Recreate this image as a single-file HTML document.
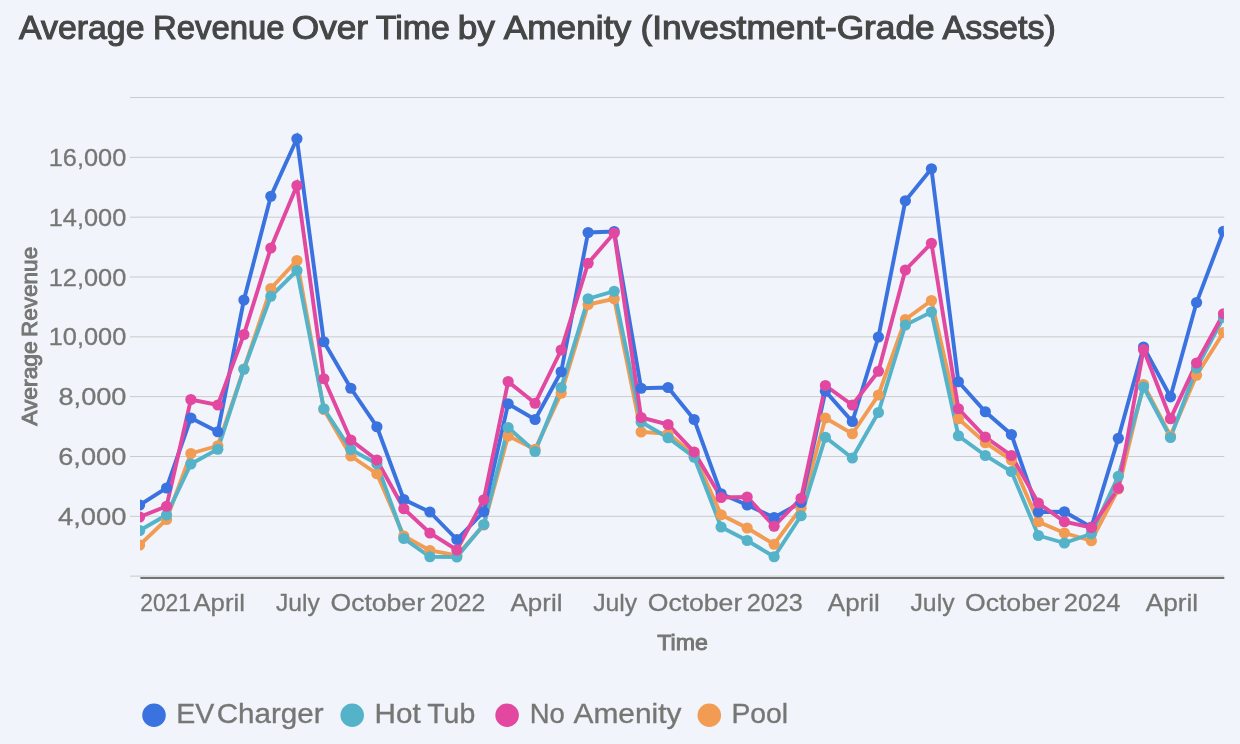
<!DOCTYPE html>
<html lang="en"><head><meta charset="utf-8"><title>Average Revenue Over Time by Amenity</title>
<style>
html,body{margin:0;padding:0;background:#f1f4fa;}
body{width:1240px;height:744px;overflow:hidden;font-family:"Liberation Sans",Arial,sans-serif;}
svg{display:block;}
text{font-family:"Liberation Sans",Arial,sans-serif;}
</style></head><body>
<svg width="1240" height="744" viewBox="0 0 1240 744">
<rect x="0" y="0" width="1240" height="744" fill="#f1f4fa"/>
<defs><clipPath id="plot"><rect x="140" y="90" width="1083.8" height="492"/></clipPath></defs>
<text y="39.2" font-size="32.3" fill="#444746" stroke="#444746" stroke-width="1.05"><tspan x="19.0" textLength="125.48" lengthAdjust="spacingAndGlyphs">Average</tspan> <tspan x="153.0" textLength="131.6" lengthAdjust="spacingAndGlyphs">Revenue</tspan> <tspan x="291.75" textLength="76.34" lengthAdjust="spacingAndGlyphs">Over</tspan> <tspan x="375.75" textLength="74.13" lengthAdjust="spacingAndGlyphs">Time</tspan> <tspan x="457.75" textLength="37.21" lengthAdjust="spacingAndGlyphs">by</tspan> <tspan x="503.75" textLength="127.3" lengthAdjust="spacingAndGlyphs">Amenity</tspan> <tspan x="640.5" textLength="294.23" lengthAdjust="spacingAndGlyphs">(Investment-Grade</tspan> <tspan x="942.5" textLength="113.22" lengthAdjust="spacingAndGlyphs">Assets)</tspan></text>
<g stroke="#c9cbca" stroke-width="1">
<line x1="130" y1="97.50" x2="1224.3" y2="97.50"/>
<line x1="130" y1="157.33" x2="1224.3" y2="157.33"/>
<line x1="130" y1="217.16" x2="1224.3" y2="217.16"/>
<line x1="130" y1="276.99" x2="1224.3" y2="276.99"/>
<line x1="130" y1="336.82" x2="1224.3" y2="336.82"/>
<line x1="130" y1="396.65" x2="1224.3" y2="396.65"/>
<line x1="130" y1="456.48" x2="1224.3" y2="456.48"/>
<line x1="130" y1="516.31" x2="1224.3" y2="516.31"/>
<line x1="130" y1="576.14" x2="1224.3" y2="576.14"/>
</g>
<g font-size="24.5" fill="#757775" stroke="#757775" stroke-width="0.3">
<text x="48.75" y="165.93" textLength="77.52" lengthAdjust="spacingAndGlyphs">16,000</text>
<text x="48.75" y="225.76" textLength="77.52" lengthAdjust="spacingAndGlyphs">14,000</text>
<text x="48.75" y="285.59" textLength="77.52" lengthAdjust="spacingAndGlyphs">12,000</text>
<text x="48.75" y="345.42" textLength="77.52" lengthAdjust="spacingAndGlyphs">10,000</text>
<text x="58.5" y="405.25" textLength="67.98" lengthAdjust="spacingAndGlyphs">8,000</text>
<text x="58.25" y="465.08" textLength="68.01" lengthAdjust="spacingAndGlyphs">6,000</text>
<text x="58.0" y="524.91" textLength="68.44" lengthAdjust="spacingAndGlyphs">4,000</text>
</g>
<line x1="140.4" y1="578" x2="1224.3" y2="578" stroke="#727472" stroke-width="2.1"/>
<text transform="translate(37.4,426.6) rotate(-90)" font-size="21.8" fill="#757775" stroke="#757775" stroke-width="0.9"><tspan x="0.75" textLength="84.55" lengthAdjust="spacingAndGlyphs">Average</tspan> <tspan x="89.50" textLength="90.33" lengthAdjust="spacingAndGlyphs">Revenue</tspan></text>
<g font-size="24.5" fill="#757775" stroke="#757775" stroke-width="0.3">
<text x="140.25" y="610.5" textLength="50.62" lengthAdjust="spacingAndGlyphs">2021</text>
<text x="193.5" y="610.5" textLength="51.33" lengthAdjust="spacingAndGlyphs">April</text>
<text x="276.0" y="610.5" textLength="43.83" lengthAdjust="spacingAndGlyphs">July</text>
<text x="330.5" y="610.5" textLength="94.5" lengthAdjust="spacingAndGlyphs">October</text>
<text x="430.25" y="610.5" textLength="55.04" lengthAdjust="spacingAndGlyphs">2022</text>
<text x="510.58" y="610.5" textLength="51.84" lengthAdjust="spacingAndGlyphs">April</text>
<text x="593.17" y="610.5" textLength="44.08" lengthAdjust="spacingAndGlyphs">July</text>
<text x="647.75" y="610.5" textLength="94.5" lengthAdjust="spacingAndGlyphs">October</text>
<text x="746.83" y="610.5" textLength="56.07" lengthAdjust="spacingAndGlyphs">2023</text>
<text x="827.87" y="610.5" textLength="51.84" lengthAdjust="spacingAndGlyphs">April</text>
<text x="910.46" y="610.5" textLength="44.08" lengthAdjust="spacingAndGlyphs">July</text>
<text x="965.04" y="610.5" textLength="94.5" lengthAdjust="spacingAndGlyphs">October</text>
<text x="1063.75" y="610.5" textLength="56.57" lengthAdjust="spacingAndGlyphs">2024</text>
<text x="1145.75" y="610.5" textLength="52.35" lengthAdjust="spacingAndGlyphs">April</text>
</g>
<text x="657.25" y="649.8" font-size="21.8" fill="#757775" stroke="#757775" stroke-width="0.9" textLength="50.67" lengthAdjust="spacingAndGlyphs">Time</text>
<g clip-path="url(#plot)" fill="none" stroke-linejoin="miter" stroke-miterlimit="4" stroke-linecap="butt">
<polyline points="139.60,545.00 166.55,519.50 190.88,453.50 217.83,445.75 243.90,369.00 270.85,288.50 296.93,260.50 323.87,409.50 350.82,456.00 376.89,473.75 403.84,536.00 429.91,550.50 456.86,555.50 483.80,525.00 508.14,436.00 535.09,449.30 561.16,393.25 588.11,304.50 614.18,298.75 641.13,432.00 668.07,433.75 694.15,455.00 721.09,514.75 747.17,528.00 774.12,544.25 801.06,508.00 825.40,418.00 852.34,433.75 878.42,395.00 905.37,319.50 931.44,300.50 958.39,418.75 985.33,442.75 1011.41,460.00 1038.35,521.75 1064.43,533.00 1091.37,540.75 1118.32,489.00 1143.53,384.50 1170.47,436.00 1196.55,375.20 1223.49,332.50" stroke="#f19c52" stroke-width="3.9"/>
<polyline points="139.60,530.50 166.55,515.00 190.88,464.00 217.83,449.25 243.90,369.25 270.85,296.25 296.93,270.50 323.87,408.75 350.82,449.50 376.89,463.75 403.84,538.50 429.91,556.75 456.86,557.00 483.80,524.50 508.14,427.50 535.09,451.50 561.16,387.50 588.11,298.75 614.18,291.25 641.13,422.00 668.07,437.75 694.15,457.25 721.09,527.00 747.17,540.50 774.12,556.75 801.06,515.75 825.40,437.25 852.34,458.00 878.42,412.50 905.37,325.00 931.44,312.00 958.39,435.75 985.33,455.50 1011.41,471.50 1038.35,535.50 1064.43,543.00 1091.37,533.75 1118.32,476.25 1143.53,387.00 1170.47,437.50 1196.55,368.00 1223.49,317.50" stroke="#54b3c8" stroke-width="3.9"/>
<polyline points="139.60,505.00 166.55,488.00 190.88,418.00 217.83,431.75 243.90,300.00 270.85,196.25 296.93,138.75 323.87,341.75 350.82,388.25 376.89,426.75 403.84,499.50 429.91,512.00 456.86,539.50 483.80,511.80 508.14,403.75 535.09,419.50 561.16,371.75 588.11,232.50 614.18,231.50 641.13,388.25 668.07,387.50 694.15,419.50 721.09,493.75 747.17,505.00 774.12,517.50 801.06,502.50 825.40,391.25 852.34,421.50 878.42,337.00 905.37,200.75 931.44,168.75 958.39,381.75 985.33,411.75 1011.41,434.50 1038.35,512.00 1064.43,511.75 1091.37,527.20 1118.32,438.30 1143.53,347.00 1170.47,396.80 1196.55,302.50 1223.49,231.25" stroke="#3a72e0" stroke-width="3.9"/>
<polyline points="139.60,517.00 166.55,506.25 190.88,399.50 217.83,405.00 243.90,334.50 270.85,248.00 296.93,185.50 323.87,378.75 350.82,440.00 376.89,460.00 403.84,508.75 429.91,533.00 456.86,550.00 483.80,499.75 508.14,381.50 535.09,403.25 561.16,350.00 588.11,263.25 614.18,233.00 641.13,417.50 668.07,424.50 694.15,452.00 721.09,497.50 747.17,497.00 774.12,526.25 801.06,498.25 825.40,385.50 852.34,405.00 878.42,371.25 905.37,270.00 931.44,243.25 958.39,408.75 985.33,437.00 1011.41,455.50 1038.35,503.00 1064.43,521.75 1091.37,527.50 1118.32,488.25 1143.53,349.50 1170.47,418.70 1196.55,363.00 1223.49,313.75" stroke="#e2489f" stroke-width="3.9"/>
<g fill="#f19c52" stroke="none"><circle cx="139.60" cy="545.00" r="5.6"/><circle cx="166.55" cy="519.50" r="5.6"/><circle cx="190.88" cy="453.50" r="5.6"/><circle cx="217.83" cy="445.75" r="5.6"/><circle cx="243.90" cy="369.00" r="5.6"/><circle cx="270.85" cy="288.50" r="5.6"/><circle cx="296.93" cy="260.50" r="5.6"/><circle cx="323.87" cy="409.50" r="5.6"/><circle cx="350.82" cy="456.00" r="5.6"/><circle cx="376.89" cy="473.75" r="5.6"/><circle cx="403.84" cy="536.00" r="5.6"/><circle cx="429.91" cy="550.50" r="5.6"/><circle cx="456.86" cy="555.50" r="5.6"/><circle cx="483.80" cy="525.00" r="5.6"/><circle cx="508.14" cy="436.00" r="5.6"/><circle cx="535.09" cy="449.30" r="5.6"/><circle cx="561.16" cy="393.25" r="5.6"/><circle cx="588.11" cy="304.50" r="5.6"/><circle cx="614.18" cy="298.75" r="5.6"/><circle cx="641.13" cy="432.00" r="5.6"/><circle cx="668.07" cy="433.75" r="5.6"/><circle cx="694.15" cy="455.00" r="5.6"/><circle cx="721.09" cy="514.75" r="5.6"/><circle cx="747.17" cy="528.00" r="5.6"/><circle cx="774.12" cy="544.25" r="5.6"/><circle cx="801.06" cy="508.00" r="5.6"/><circle cx="825.40" cy="418.00" r="5.6"/><circle cx="852.34" cy="433.75" r="5.6"/><circle cx="878.42" cy="395.00" r="5.6"/><circle cx="905.37" cy="319.50" r="5.6"/><circle cx="931.44" cy="300.50" r="5.6"/><circle cx="958.39" cy="418.75" r="5.6"/><circle cx="985.33" cy="442.75" r="5.6"/><circle cx="1011.41" cy="460.00" r="5.6"/><circle cx="1038.35" cy="521.75" r="5.6"/><circle cx="1064.43" cy="533.00" r="5.6"/><circle cx="1091.37" cy="540.75" r="5.6"/><circle cx="1118.32" cy="489.00" r="5.6"/><circle cx="1143.53" cy="384.50" r="5.6"/><circle cx="1170.47" cy="436.00" r="5.6"/><circle cx="1196.55" cy="375.20" r="5.6"/><circle cx="1223.49" cy="332.50" r="5.6"/></g>
<g fill="#54b3c8" stroke="none"><circle cx="139.60" cy="530.50" r="5.6"/><circle cx="166.55" cy="515.00" r="5.6"/><circle cx="190.88" cy="464.00" r="5.6"/><circle cx="217.83" cy="449.25" r="5.6"/><circle cx="243.90" cy="369.25" r="5.6"/><circle cx="270.85" cy="296.25" r="5.6"/><circle cx="296.93" cy="270.50" r="5.6"/><circle cx="323.87" cy="408.75" r="5.6"/><circle cx="350.82" cy="449.50" r="5.6"/><circle cx="376.89" cy="463.75" r="5.6"/><circle cx="403.84" cy="538.50" r="5.6"/><circle cx="429.91" cy="556.75" r="5.6"/><circle cx="456.86" cy="557.00" r="5.6"/><circle cx="483.80" cy="524.50" r="5.6"/><circle cx="508.14" cy="427.50" r="5.6"/><circle cx="535.09" cy="451.50" r="5.6"/><circle cx="561.16" cy="387.50" r="5.6"/><circle cx="588.11" cy="298.75" r="5.6"/><circle cx="614.18" cy="291.25" r="5.6"/><circle cx="641.13" cy="422.00" r="5.6"/><circle cx="668.07" cy="437.75" r="5.6"/><circle cx="694.15" cy="457.25" r="5.6"/><circle cx="721.09" cy="527.00" r="5.6"/><circle cx="747.17" cy="540.50" r="5.6"/><circle cx="774.12" cy="556.75" r="5.6"/><circle cx="801.06" cy="515.75" r="5.6"/><circle cx="825.40" cy="437.25" r="5.6"/><circle cx="852.34" cy="458.00" r="5.6"/><circle cx="878.42" cy="412.50" r="5.6"/><circle cx="905.37" cy="325.00" r="5.6"/><circle cx="931.44" cy="312.00" r="5.6"/><circle cx="958.39" cy="435.75" r="5.6"/><circle cx="985.33" cy="455.50" r="5.6"/><circle cx="1011.41" cy="471.50" r="5.6"/><circle cx="1038.35" cy="535.50" r="5.6"/><circle cx="1064.43" cy="543.00" r="5.6"/><circle cx="1091.37" cy="533.75" r="5.6"/><circle cx="1118.32" cy="476.25" r="5.6"/><circle cx="1143.53" cy="387.00" r="5.6"/><circle cx="1170.47" cy="437.50" r="5.6"/><circle cx="1196.55" cy="368.00" r="5.6"/><circle cx="1223.49" cy="317.50" r="5.6"/></g>
<g fill="#3a72e0" stroke="none"><circle cx="139.60" cy="505.00" r="5.6"/><circle cx="166.55" cy="488.00" r="5.6"/><circle cx="190.88" cy="418.00" r="5.6"/><circle cx="217.83" cy="431.75" r="5.6"/><circle cx="243.90" cy="300.00" r="5.6"/><circle cx="270.85" cy="196.25" r="5.6"/><circle cx="296.93" cy="138.75" r="5.6"/><circle cx="323.87" cy="341.75" r="5.6"/><circle cx="350.82" cy="388.25" r="5.6"/><circle cx="376.89" cy="426.75" r="5.6"/><circle cx="403.84" cy="499.50" r="5.6"/><circle cx="429.91" cy="512.00" r="5.6"/><circle cx="456.86" cy="539.50" r="5.6"/><circle cx="483.80" cy="511.80" r="5.6"/><circle cx="508.14" cy="403.75" r="5.6"/><circle cx="535.09" cy="419.50" r="5.6"/><circle cx="561.16" cy="371.75" r="5.6"/><circle cx="588.11" cy="232.50" r="5.6"/><circle cx="614.18" cy="231.50" r="5.6"/><circle cx="641.13" cy="388.25" r="5.6"/><circle cx="668.07" cy="387.50" r="5.6"/><circle cx="694.15" cy="419.50" r="5.6"/><circle cx="721.09" cy="493.75" r="5.6"/><circle cx="747.17" cy="505.00" r="5.6"/><circle cx="774.12" cy="517.50" r="5.6"/><circle cx="801.06" cy="502.50" r="5.6"/><circle cx="825.40" cy="391.25" r="5.6"/><circle cx="852.34" cy="421.50" r="5.6"/><circle cx="878.42" cy="337.00" r="5.6"/><circle cx="905.37" cy="200.75" r="5.6"/><circle cx="931.44" cy="168.75" r="5.6"/><circle cx="958.39" cy="381.75" r="5.6"/><circle cx="985.33" cy="411.75" r="5.6"/><circle cx="1011.41" cy="434.50" r="5.6"/><circle cx="1038.35" cy="512.00" r="5.6"/><circle cx="1064.43" cy="511.75" r="5.6"/><circle cx="1091.37" cy="527.20" r="5.6"/><circle cx="1118.32" cy="438.30" r="5.6"/><circle cx="1143.53" cy="347.00" r="5.6"/><circle cx="1170.47" cy="396.80" r="5.6"/><circle cx="1196.55" cy="302.50" r="5.6"/><circle cx="1223.49" cy="231.25" r="5.6"/></g>
<g fill="#e2489f" stroke="none"><circle cx="139.60" cy="517.00" r="5.6"/><circle cx="166.55" cy="506.25" r="5.6"/><circle cx="190.88" cy="399.50" r="5.6"/><circle cx="217.83" cy="405.00" r="5.6"/><circle cx="243.90" cy="334.50" r="5.6"/><circle cx="270.85" cy="248.00" r="5.6"/><circle cx="296.93" cy="185.50" r="5.6"/><circle cx="323.87" cy="378.75" r="5.6"/><circle cx="350.82" cy="440.00" r="5.6"/><circle cx="376.89" cy="460.00" r="5.6"/><circle cx="403.84" cy="508.75" r="5.6"/><circle cx="429.91" cy="533.00" r="5.6"/><circle cx="456.86" cy="550.00" r="5.6"/><circle cx="483.80" cy="499.75" r="5.6"/><circle cx="508.14" cy="381.50" r="5.6"/><circle cx="535.09" cy="403.25" r="5.6"/><circle cx="561.16" cy="350.00" r="5.6"/><circle cx="588.11" cy="263.25" r="5.6"/><circle cx="614.18" cy="233.00" r="5.6"/><circle cx="641.13" cy="417.50" r="5.6"/><circle cx="668.07" cy="424.50" r="5.6"/><circle cx="694.15" cy="452.00" r="5.6"/><circle cx="721.09" cy="497.50" r="5.6"/><circle cx="747.17" cy="497.00" r="5.6"/><circle cx="774.12" cy="526.25" r="5.6"/><circle cx="801.06" cy="498.25" r="5.6"/><circle cx="825.40" cy="385.50" r="5.6"/><circle cx="852.34" cy="405.00" r="5.6"/><circle cx="878.42" cy="371.25" r="5.6"/><circle cx="905.37" cy="270.00" r="5.6"/><circle cx="931.44" cy="243.25" r="5.6"/><circle cx="958.39" cy="408.75" r="5.6"/><circle cx="985.33" cy="437.00" r="5.6"/><circle cx="1011.41" cy="455.50" r="5.6"/><circle cx="1038.35" cy="503.00" r="5.6"/><circle cx="1064.43" cy="521.75" r="5.6"/><circle cx="1091.37" cy="527.50" r="5.6"/><circle cx="1118.32" cy="488.25" r="5.6"/><circle cx="1143.53" cy="349.50" r="5.6"/><circle cx="1170.47" cy="418.70" r="5.6"/><circle cx="1196.55" cy="363.00" r="5.6"/><circle cx="1223.49" cy="313.75" r="5.6"/></g>
</g>
<g font-size="28.3" fill="#757775" stroke="#757775" stroke-width="0.35">
<circle cx="154.0" cy="715.3" r="11.75" fill="#3a72e0" stroke="none"/><text y="723.4"><tspan x="176.25" textLength="38.02" lengthAdjust="spacingAndGlyphs">EV</tspan> <tspan x="216.75" textLength="106.8" lengthAdjust="spacingAndGlyphs">Charger</tspan></text>
<circle cx="352.2" cy="715.3" r="11.75" fill="#54b3c8" stroke="none"/><text y="723.4"><tspan x="374.5" textLength="46.15" lengthAdjust="spacingAndGlyphs">Hot</tspan> <tspan x="427.25" textLength="47.98" lengthAdjust="spacingAndGlyphs">Tub</tspan></text>
<circle cx="507.1" cy="715.3" r="11.75" fill="#e2489f" stroke="none"/><text y="723.4"><tspan x="529.75" textLength="35.1" lengthAdjust="spacingAndGlyphs">No</tspan> <tspan x="573.5" textLength="107.95" lengthAdjust="spacingAndGlyphs">Amenity</tspan></text>
<circle cx="709.3" cy="715.3" r="11.75" fill="#f19c52" stroke="none"/><text y="723.4"><tspan x="731.5" textLength="56.64" lengthAdjust="spacingAndGlyphs">Pool</tspan></text>
</g>
</svg>
</body></html>
